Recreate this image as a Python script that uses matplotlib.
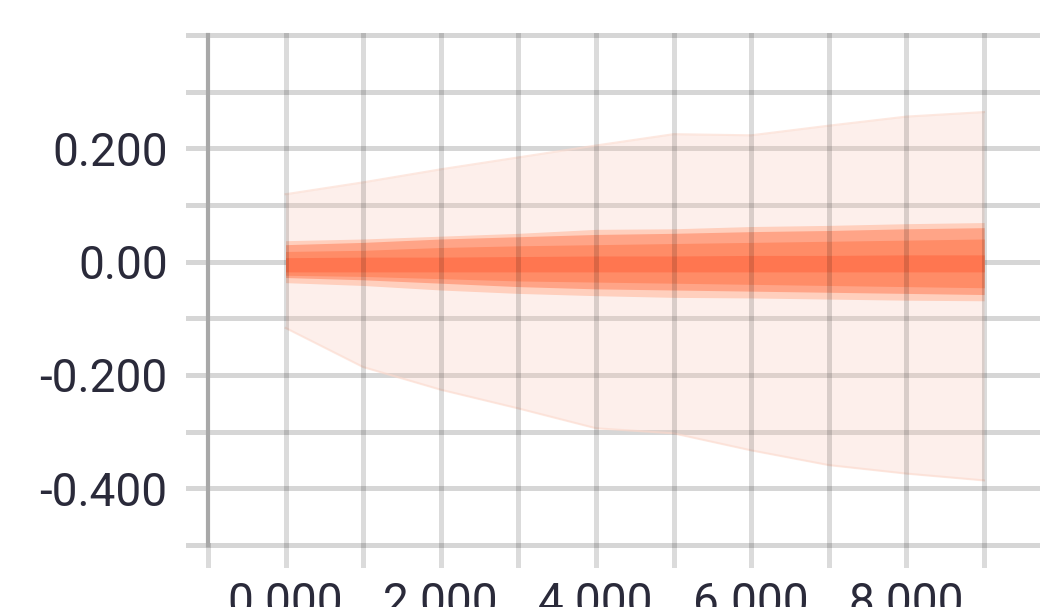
# Weight distribution over training steps (TensorBoard style bands)

import matplotlib
matplotlib.use('Agg')
import matplotlib.pyplot as plt
import numpy as np

# training steps
steps = [0, 1000, 2000, 3000, 4000, 5000, 6000, 7000, 8000, 9000]

# outer band (min / max)
w_max = [0.119, 0.140, 0.163, 0.184, 0.205, 0.225, 0.223, 0.240, 0.256, 0.264]
w_min = [-0.117, -0.186, -0.226, -0.259, -0.294, -0.303, -0.333, -0.359, -0.374, -0.386]

# inner percentile bands
p93 = [0.037, 0.040, 0.045, 0.050, 0.057, 0.058, 0.062, 0.064, 0.067, 0.069]
p07 = [-0.037, -0.042, -0.050, -0.056, -0.060, -0.063, -0.064, -0.066, -0.068, -0.069]
p84 = [0.030, 0.034, 0.040, 0.044, 0.048, 0.050, 0.053, 0.055, 0.058, 0.060]
p16 = [-0.028, -0.032, -0.038, -0.044, -0.048, -0.050, -0.052, -0.054, -0.056, -0.058]
p69 = [0.018, 0.020, 0.025, 0.028, 0.030, 0.032, 0.034, 0.036, 0.038, 0.040]
p31 = [-0.024, -0.026, -0.030, -0.034, -0.036, -0.038, -0.040, -0.042, -0.044, -0.046]
c_hi = [0.007, 0.008, 0.008, 0.009, 0.010, 0.010, 0.011, 0.011, 0.012, 0.012]
c_lo = [-0.018, -0.018, -0.018, -0.018, -0.018, -0.018, -0.018, -0.018, -0.018, -0.018]

x_ticks = [0, 2000, 4000, 6000, 8000]
x_labels = ['0.000', '2.000', '4.000', '6.000', '8.000']
y_ticks = [-0.4, -0.2, 0.0, 0.2]
y_labels = ['-0.400', '-0.200', '0.00', '0.200']

plt.rcParams['font.family'] = ['Roboto', 'DejaVu Sans']

W, H = 1040, 607
fig = plt.figure(figsize=(W / 100, H / 100), dpi=100)
ax = fig.add_axes([208 / W, 1 - 545 / H, 1 - 208 / W, (545 - 35) / H])
ax.set_xlim(-1000, -1000 + (W - 208) / 77.6 * 1000)
ax.set_ylim(-0.5, 0.4)

# ---------- bands ----------
ax.fill_between(steps, w_min, w_max, color='#f9c3b0', alpha=0.25, lw=0, zorder=2)
ax.plot(steps, w_max, color='#fcd9cc', lw=1.5, alpha=0.6, zorder=2)
ax.plot(steps, w_min, color='#fcd9cc', lw=1.5, alpha=0.6, zorder=2)
ax.fill_between(steps, p07, p93, color='#ffcfbd', lw=0, zorder=2)
ax.fill_between(steps, p16, p84, color='#ffa487', lw=0, zorder=2)
ax.fill_between(steps, p31, p69, color='#ff8c67', lw=0, zorder=2)
ax.fill_between(steps, c_lo, c_hi, color='#ff7650', lw=0, zorder=2)

# ---------- grid ----------
# horizontal lines sit under the bands, vertical ones over them
h_kw = dict(color='#d6d6d6', lw=3.6, zorder=1, clip_on=False)
v_kw = dict(color='black', alpha=0.14, lw=3.6, zorder=3, clip_on=False)
for yv in np.arange(-0.5, 0.41, 0.1):
    ax.axhline(yv, xmin=-20 / (W - 208), xmax=1, **h_kw)
for xv in range(0, 10000, 1000):
    ax.axvline(xv, ymin=-20 / 510, ymax=1, **v_kw)
ax.axvline(-1000, ymin=-20 / 510, ymax=0, **v_kw)
ax.axvline(-1000, ymin=0, ymax=1, color='#a8a8a8', lw=3, zorder=4, clip_on=False)

for s in ax.spines.values():
    s.set_visible(False)

# ---------- ticks ----------
ax.set_xticks(x_ticks)
ax.set_xticklabels(x_labels)
ax.set_yticks(y_ticks)
ax.set_yticklabels(y_labels)
ax.tick_params(axis='both', length=0, labelsize=33, labelcolor='#2a2a3a')
ax.tick_params(axis='y', pad=29)
ax.tick_params(axis='x', pad=26)

fig.savefig('out.png', dpi=100)
